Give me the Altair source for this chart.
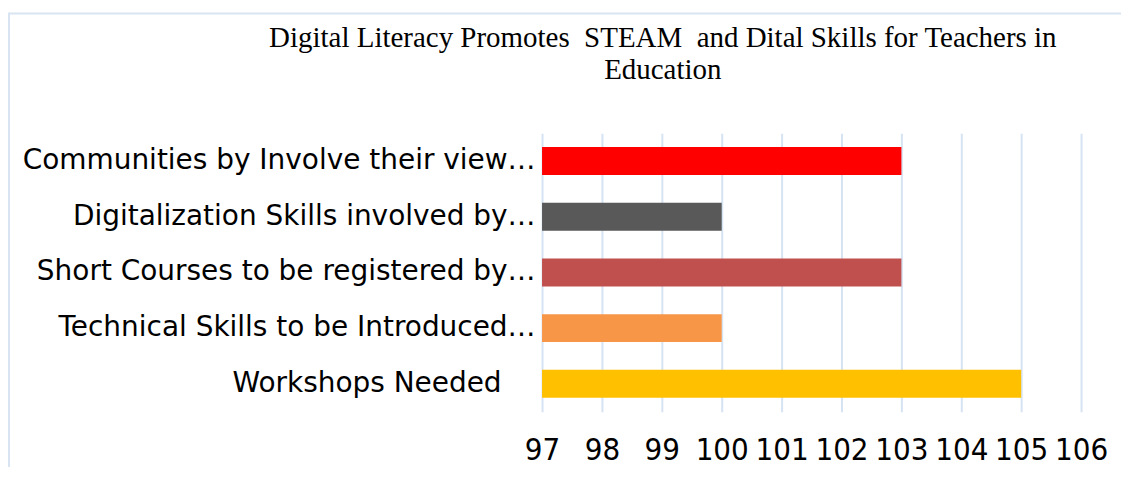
import altair as alt
import pandas as pd

categories = [
    "Communities by Involve their view…",
    "Digitalization Skills involved by…",
    "Short Courses to be registered by…",
    "Technical Skills to be Introduced…",
    "Workshops Needed",
]
values = [103, 100, 103, 100, 105]
colors = ["#FF0000", "#595959", "#C0504D", "#F79646", "#FFC000"]
x_ticks = [97, 98, 99, 100, 101, 102, 103, 104, 105, 106]
title_lines = ["Digital Literacy Promotes\u00a0 STEAM\u00a0 and Dital Skills for Teachers in", "Education"]

df = pd.DataFrame({"cat": categories, "val": values, "base": [97] * len(values), "color": colors})
title_df = pd.DataFrame({"t": title_lines, "row": [0, 1]})

W, H = 540, 279
PL, PT = 535, 125

bars = alt.Chart(df).mark_bar(size=28).encode(
    y=alt.Y("cat:N", sort=categories, title=None,
            scale=alt.Scale(paddingInner=0.5, paddingOuter=0.25),
            axis=alt.Axis(labelFont="DejaVu Sans", labelFontSize=28, labelColor="#000000",
                          ticks=False, domain=False, labelLimit=700,
                          labelPadding={"condition": {"test": "datum.value == 'Workshops Needed'", "value": 41},
                                        "value": 7})),
    x=alt.X("base:Q", title=None,
            scale=alt.Scale(domain=[97, 106], nice=False, zero=False),
            axis=alt.Axis(values=x_ticks, labelFont="DejaVu Sans Condensed, Liberation Sans", labelFontSize=31,
                          labelColor="#000000", ticks=False, domain=False,
                          labelPadding=24, grid=True, gridColor="#D6E3F3", gridWidth=2,
                          labelFlush=False)),
    x2="val:Q",
    color=alt.Color("color:N", scale=None, legend=None),
)

title = alt.Chart(title_df).mark_text(font="Liberation Serif", fontSize=29, color="#000000",
                                      align="center", baseline="middle").encode(
    text="t:N",
    x=alt.value(121),
    y=alt.Y("row:Q", scale=alt.Scale(domain=[0, 1], range=[-95, -63]), axis=None),
)

border_top = alt.Chart(pd.DataFrame({"a": [0]})).mark_rule(color="#D9E4F2", strokeWidth=2).encode(
    x=alt.value(-PL), x2=alt.value(W + 60), y=alt.value(-PT + 5)
)
border_left = alt.Chart(pd.DataFrame({"a": [0]})).mark_rule(color="#D9E4F2", strokeWidth=2).encode(
    x=alt.value(-PL + 1), y=alt.value(-PT + 5), y2=alt.value(H + 60)
)

chart = alt.layer(border_top, border_left, title, bars).resolve_scale(y="independent").properties(
    width=W, height=H,
    padding={"left": PL, "top": PT, "right": 40, "bottom": 55},
    autosize=alt.AutoSizeParams(type="none"),
).configure(background="#FFFFFF").configure_view(stroke=None)

chart.save("out.html", embed_options={"renderer": "svg", "actions": False})
